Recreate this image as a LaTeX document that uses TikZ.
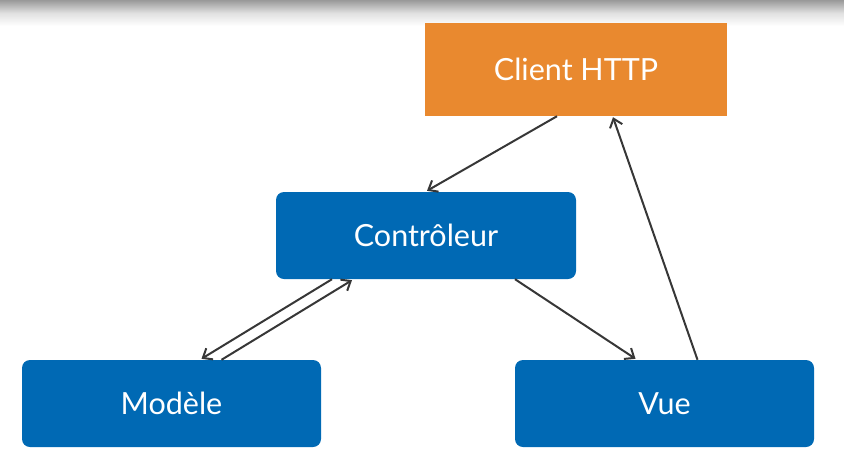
\documentclass[tikz,border=0pt]{standalone}
\usepackage{fontspec}
\setmainfont{Lato}
\usetikzlibrary{arrows.meta}
\definecolor{boxblue}{RGB}{0,105,180}
\definecolor{boxorange}{RGB}{233,137,47}
\definecolor{arrowgray}{RGB}{55,55,55}
\tikzset{
  bloc/.style={fill=boxblue, rounded corners=8pt, minimum width=299pt, minimum height=87pt,
    inner sep=0pt, text=white, font=\fontsize{30.5}{36}\selectfont},
  fleche/.style={draw=arrowgray, line width=2pt, -{Straight Barb[length=8pt,width=13pt]}}
}

\begin{document}
\begin{tikzpicture}[x=1pt, y=-1pt]
			%%%%% START %%%%%
			
			\useasboundingbox (0, 0) rectangle (844, 472);
			\shade[top color=black!40, bottom color=white, middle color=black!12] (0, 0) rectangle (844, 26);
			
			\node[bloc, fill=boxorange, rounded corners=0pt, minimum width=302pt, minimum height=93pt] (client) at (576, 69.5) {Client HTTP};
			\node[bloc, minimum width=300pt] (ctrl) at (426, 235.5) {Contrôleur};
			\node[bloc] (modele) at (171.5, 403.5) {Modèle};
			\node[bloc] (vue) at (664.5, 403.5) {Vue};
			
			\draw[fleche] ([xshift=-19pt]client.south) -- ([xshift=1pt, yshift=1pt]ctrl.north);
			\draw[fleche] ([xshift=-94pt]ctrl.south) -- ([xshift=30pt, yshift=1pt]modele.north);
			\draw[fleche] ([xshift=50pt]modele.north) -- ([xshift=-74pt, yshift=-1pt]ctrl.south);
			\draw[fleche] ([xshift=89pt]ctrl.south) -- ([xshift=-29pt, yshift=1pt]vue.north);
			\draw[fleche] ([xshift=33pt]vue.north) -- ([xshift=37pt, yshift=-1pt]client.south);
			
			%%%%% END %%%%%
\end{tikzpicture}
\end{document}
